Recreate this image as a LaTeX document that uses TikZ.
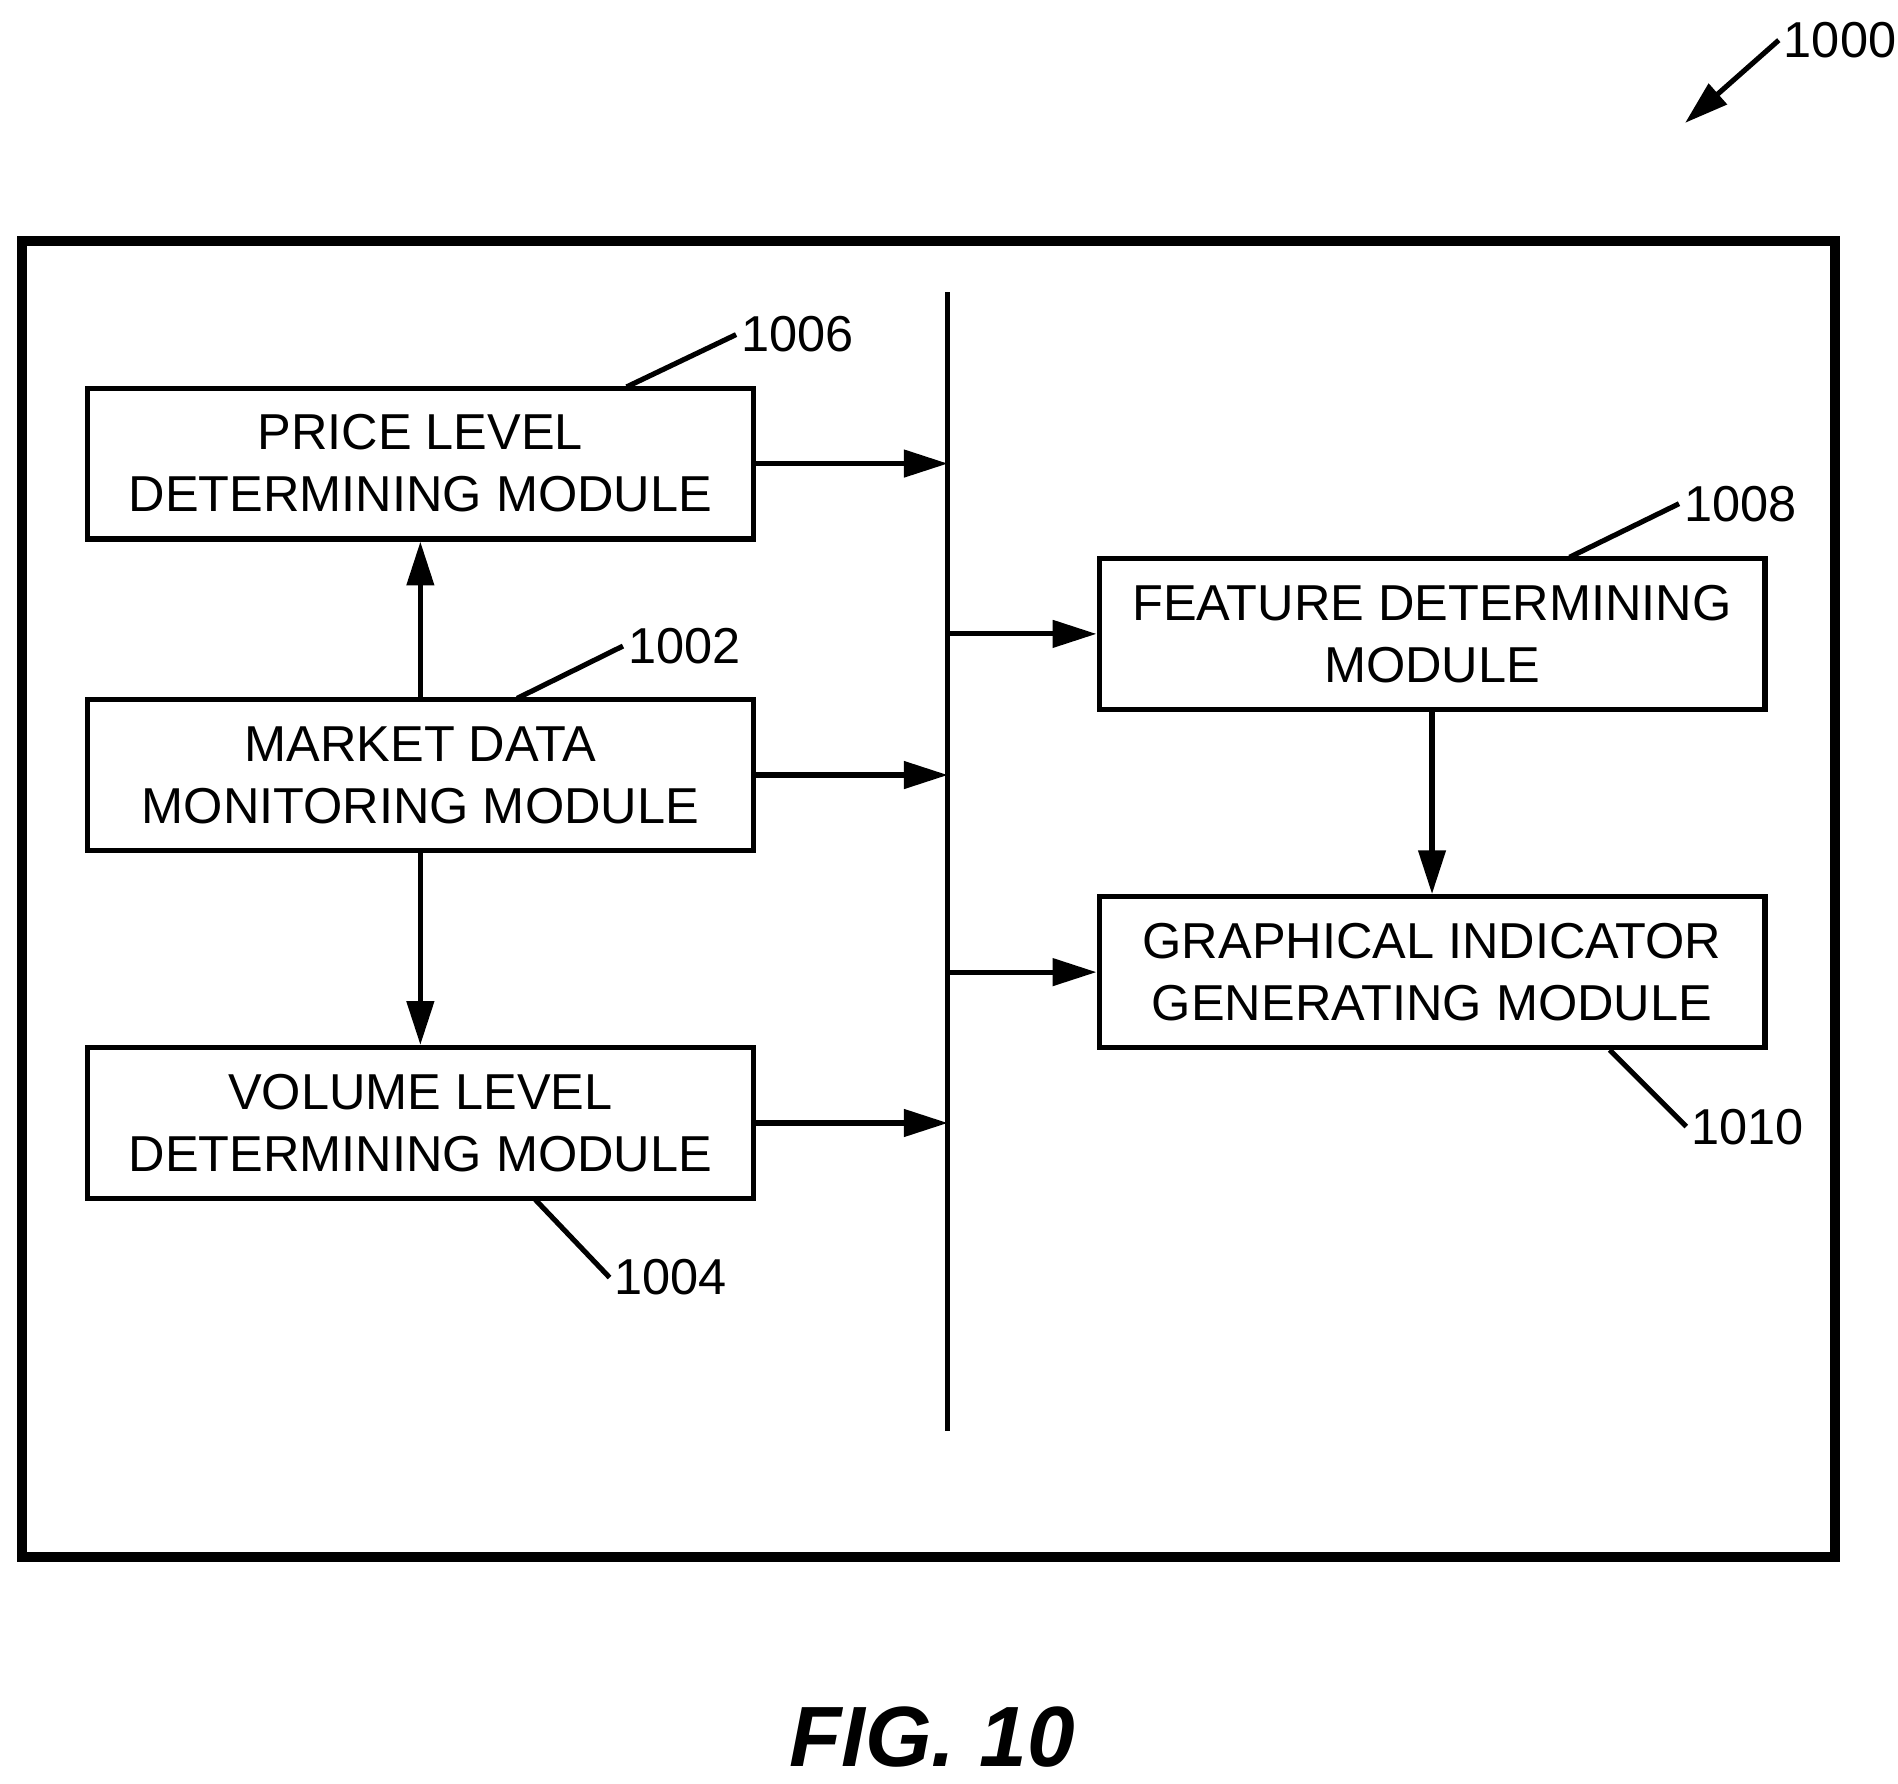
\documentclass[tikz,border=0pt]{standalone}
\usepackage{fontspec}
\setmainfont{Liberation Sans}
\usetikzlibrary{arrows.meta}
\begin{document}
\begin{tikzpicture}[x=0.01cm,y=-0.01cm]
			\tikzstyle{module}=[draw, line width=1.2pt, shape=rectangle, minimum width=5.47cm, minimum height=1.24cm, align=center, font=\fontsize{11.8}{14.5}\selectfont, inner sep=0pt];
			\tikzstyle{flow}=[line width=1.2pt, -{Triangle[length=0.36cm,width=0.22cm]}];
			\tikzstyle{ref}=[font=\fontsize{11.8}{13}\selectfont, inner sep=1pt];
			\useasboundingbox (0,0) rectangle (1560,1466);
			\draw [line width=2.4pt] (18,198) rectangle (1508,1280);
			\node [module] (price) at (345.5,381) {PRICE LEVEL\\DETERMINING MODULE};
			\node [module] (market) at (345.5,637) {MARKET DATA\\MONITORING MODULE};
			\node [module] (volume) at (345.5,923) {VOLUME LEVEL\\DETERMINING MODULE};
			\node [module] (feature) at (1177,521) {FEATURE DETERMINING\\MODULE};
			\node [module] (graphic) at (1177,799) {GRAPHICAL INDICATOR\\GENERATING MODULE};
			\coordinate (bustop) at (779,240);
			\coordinate (busbot) at (779,1176);
			\draw [line width=1.2pt] (bustop) -- (busbot);
			\draw [flow] (price.east) -- (price.east -| bustop);
			\draw [flow] (market.east) -- (market.east -| bustop);
			\draw [flow] (volume.east) -- (volume.east -| bustop);
			\draw [flow] (feature.west -| bustop) -- (feature.west);
			\draw [flow] (graphic.west -| bustop) -- (graphic.west);
			\draw [flow] (market.north) -- (price.south);
			\draw [flow] (market.south) -- (volume.north);
			\draw [flow] (feature.south) -- (graphic.north);
			% reference numerals
			\node [ref, anchor=west] (n1006) at (605,275) {1006};
			\node [ref, anchor=west] (n1002) at (512,531) {1002};
			\node [ref, anchor=west] (n1008) at (1380,414) {1008};
			\node [ref, anchor=west] (n1010) at (1386,926) {1010};
			\node [ref, anchor=west] (n1004) at (501,1050) {1004};
			\node [ref, anchor=west] (n1000) at (1462,33) {1000};
			\draw [line width=1.2pt] (515,318) -- (n1006.west);
			\draw [line width=1.2pt] (425,574) -- (n1002.west);
			\draw [line width=1.2pt] (1290,458) -- (n1008.west);
			\draw [line width=1.2pt] (1323,863) -- (n1010.west);
			\draw [line width=1.2pt] (440,986) -- (n1004.west);
			\draw [flow] (n1000.west) -- (1385,101);
			\node [font=\fontsize{20}{24}\selectfont\bfseries\itshape] (fig) at (766,1428) {FIG. 10};
		\end{tikzpicture}
\end{document}
